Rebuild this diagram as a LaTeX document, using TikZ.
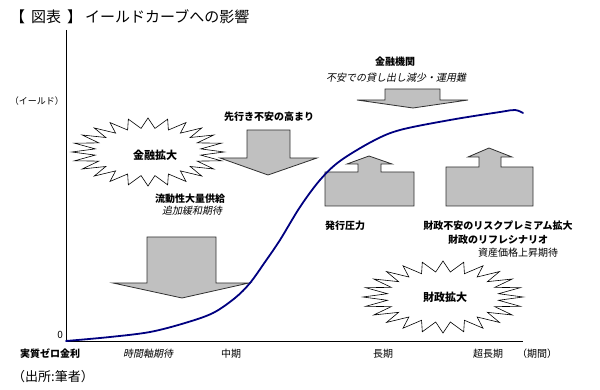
\documentclass[tikz,border=0pt]{standalone}
\usepackage{fontspec}
\setmainfont{Noto Sans CJK JP}[AutoFakeSlant=0.2]
\definecolor{arrgray}{HTML}{C0C0C0}
\definecolor{arredge}{HTML}{303030}
\definecolor{navy}{HTML}{000080}
\begin{document}
\begin{tikzpicture}[x=1pt,y=-1pt,
  blk/.style={fill=arrgray, draw=arredge, line width=0.8pt, line join=miter},
  burst/.style={fill=white, draw=black, line width=0.6pt, line join=miter},
  lb/.style={inner sep=0pt, font=\fontsize{10}{12}\selectfont\bfseries},
  li/.style={inner sep=0pt, font=\fontsize{10}{12}\selectfont\itshape},
  lr/.style={inner sep=0pt, font=\fontsize{10}{12}\selectfont},
  axis/.style={draw=black, line width=0.8pt},
  curve/.style={draw=navy, line width=1.8pt, line cap=round}]
\useasboundingbox (0,0) rectangle (600,390);

% title
\node[inner sep=0pt, anchor=west, font=\fontsize{15}{17}\selectfont] (title) at (10,17) {【\kern6pt 図表\kern6pt 】\kern3pt イールドカーブへの影響};

% axes
\coordinate (ytop) at (66,30);
\coordinate (orig) at (66,341);
\coordinate (xend) at (523,341);
\draw[axis] (ytop) -- (orig) -- (xend);
\node[lr, anchor=east, font=\fontsize{9}{10}\selectfont] (ylab) at (64,101) {（イールド）};
\node[lr, anchor=east] (zero) at (63,335) {0};

% starbursts
\draw[burst] plot[samples=49, domain=0:48, variable=\k]
  ({148+ifthenelse(mod(round(\k),2)==0,1,0.7)*76*cos(\k*7.5)},
   {152+ifthenelse(mod(round(\k),2)==0,1,0.7)*34*sin(\k*7.5)}) -- cycle;
\draw[burst] plot[samples=49, domain=0:48, variable=\k]
  ({443+ifthenelse(mod(round(\k),2)==0,1,0.7)*80*cos(\k*7.5)},
   {297+ifthenelse(mod(round(\k),2)==0,1,0.7)*36*sin(\k*7.5)}) -- cycle;
\node[lb, font=\fontsize{11}{12}\selectfont\bfseries] (kinyu) at (155,155) {金融拡大};
\node[lb, font=\fontsize{11}{12}\selectfont\bfseries] (zaisei) at (445,297) {財政拡大};

% block arrows
\draw[blk] (247,130) -- (290,130) -- (290,158) -- (317,158) -- (268,175) -- (220,158) -- (247,158) -- cycle;
\draw[blk] (385,89) -- (440,89) -- (440,100) -- (468,100) -- (413,108) -- (357,100) -- (385,100) -- cycle;
\draw[blk] (147,237) -- (216,237) -- (216,283) -- (249,283) -- (182,298) -- (113,283) -- (147,283) -- cycle;
\draw[blk] (325,206) -- (325,172) -- (358,172) -- (358,164) -- (347,164) -- (369,156) -- (392,164) -- (381,164) -- (381,172) -- (414,172) -- (414,206) -- cycle;
\draw[blk] (446,206) -- (446,167) -- (479,167) -- (479,157) -- (468,157) -- (489,148) -- (512,157) -- (501,157) -- (501,167) -- (533,167) -- (533,206) -- cycle;

% yield curve
\draw[curve] plot[smooth, tension=0.55] coordinates {(66,341) (110,337) (150,332) (185,323) (213,313) (235,298) (250,283) (265,262) (280,240) (300,207) (320,180) (340,161) (373,141) (400,130) (450,120) (500,112) (515,110) (523,113)};

% labels
\node[lb] (sakiyuki) at (269,117) {先行き不安の高まり};
\node[lb] (kikan) at (395,62) {金融機関};
\node[li] (kashidashi) at (396,78) {不安での貸し出し減少・運用難};
\node[lb] (ryudo) at (190,199) {流動性大量供給};
\node[li] (tsuika) at (192,211) {追加緩和期待};
\node[lb] (hakko) at (345,226) {発行圧力};
\node[lb] (risk) at (498,226) {財政不安のリスクプレミアム拡大};
\node[lb] (reflation) at (498,240) {財政のリフレシナリオ};
\node[lr] (shisan) at (518,253) {資産価格上昇期待};

% x labels
\node[lb, font=\fontsize{10}{12}\selectfont\bfseries\itshape] (zerorate) at (50,354) {実質ゼロ金利};
\node[li] (jikan) at (148,354) {時間軸期待};
\node[lr] (chuki) at (231,354) {中期};
\node[lr] (choki) at (383,354) {長期};
\node[lr] (chochoki) at (488,354) {超長期};
\node[lr] (kikanlab) at (537,354) {（期間）};

% source
\node[inner sep=0pt, anchor=west, font=\fontsize{13}{15}\selectfont] (source) at (12,377) {（出所:筆者）};
\end{tikzpicture}
\end{document}
